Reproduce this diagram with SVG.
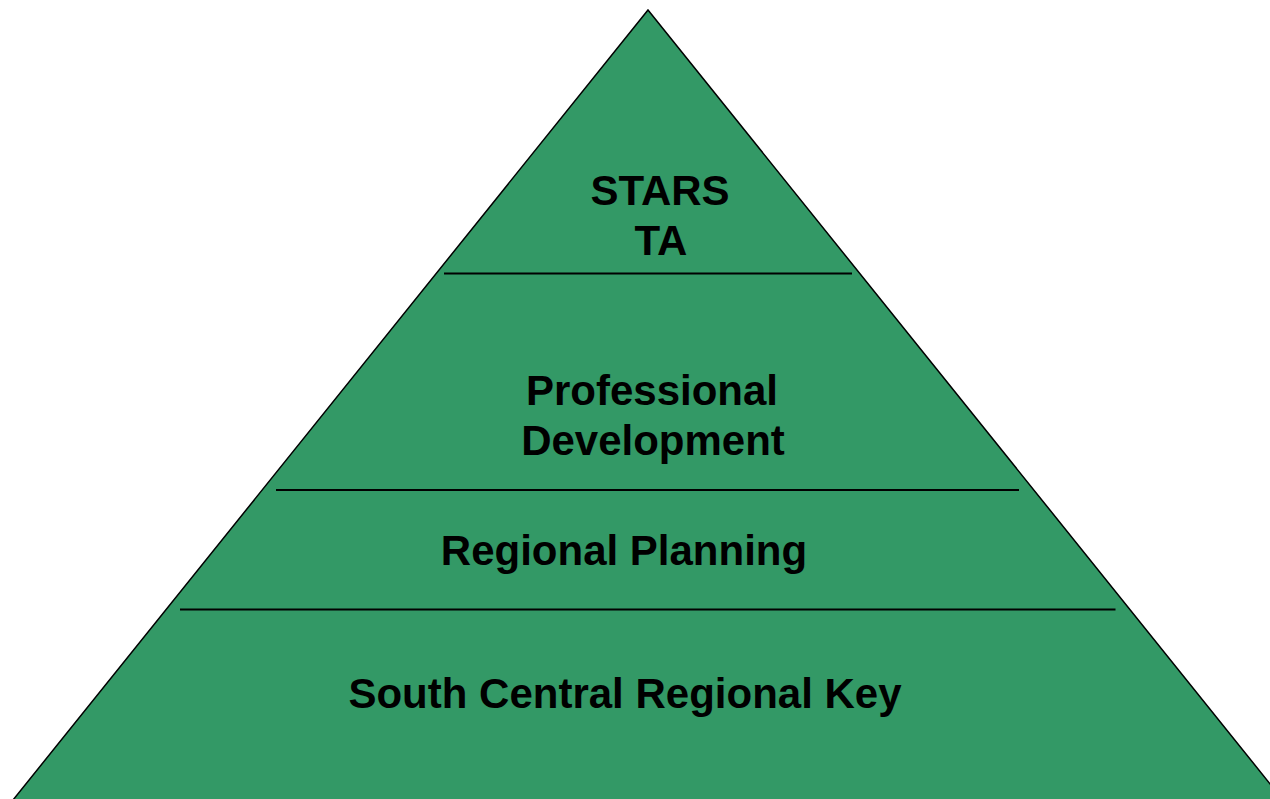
<svg xmlns="http://www.w3.org/2000/svg" width="1270" height="799" viewBox="0 0 1270 799">
  <style>
    .tier-text { font-family: "Liberation Sans", Arial, sans-serif; font-weight: bold; font-size: 42px; fill: #000000; text-anchor: middle; }
    .divider { stroke: #000000; stroke-width: 2.2; fill: none; }
    .pyramid { fill: #339966; stroke: #000000; stroke-width: 1.5; }
  </style>
  <rect x="0" y="0" width="1270" height="799" fill="#ffffff"/>

  <!-- pyramid body -->
  <g id="pyramid">
    <polygon class="pyramid" points="648,10 1283,800 13,800"/>
  </g>

  <!-- tier dividers -->
  <g id="dividers">
    <line class="divider" x1="444" y1="273.5" x2="852" y2="273.5"/>
    <line class="divider" x1="276" y1="490" x2="1019" y2="490"/>
    <line class="divider" x1="180" y1="609.5" x2="1115.5" y2="609.5"/>
  </g>

  <!-- tier labels -->
  <g id="tier-stars">
    <text class="tier-text" x="660" y="205">STARS</text>
    <text class="tier-text" x="661" y="255">TA</text>
  </g>
  <g id="tier-professional-development">
    <text class="tier-text" x="652" y="405">Professional</text>
    <text class="tier-text" x="653" y="455">Development</text>
  </g>
  <g id="tier-regional-planning">
    <text class="tier-text" x="624" y="565">Regional Planning</text>
  </g>
  <g id="tier-regional-key">
    <text class="tier-text" x="625" y="708">South Central Regional Key</text>
  </g>
</svg>
